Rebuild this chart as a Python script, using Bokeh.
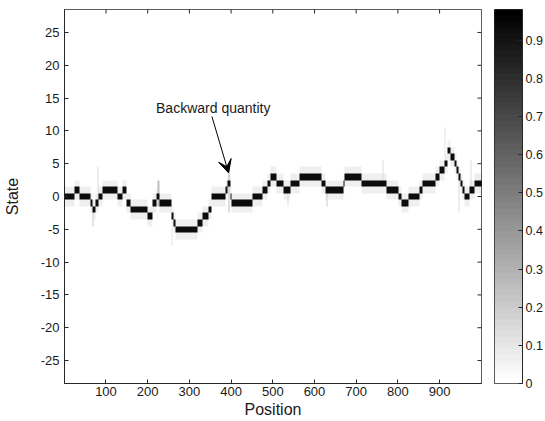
import numpy as np
from bokeh.plotting import figure
from bokeh.models import (Range1d, LinearColorMapper, FixedTicker, Label, Arrow, VeeHead)
from bokeh.layouts import row
from bokeh.embed import file_html
from bokeh.resources import INLINE

# ---------------- data ----------------
n_positions = 1000
states = list(range(-28, 29))

# most likely state path: segment start position and state
seg_start = [1, 25, 37, 64, 67, 76, 82, 92, 128, 140,
             150, 160, 200, 212, 222, 230, 257, 263, 268, 319,
             331, 347, 354, 388, 392, 398, 402, 451, 476, 487,
             496, 509, 526, 543, 565, 618, 628, 669, 672, 713,
             772, 801, 809, 825, 852, 860, 890, 900, 912, 920,
             926, 936, 942, 946, 950, 955, 960, 973, 985]
seg_state = [0, 1, 0, -1, -2, -1, 0, 1, 0, 1,
             -1, -2, -3, -1, 0, -1, -3, -4, -5, -4,
             -3, -2, 0, 1, 2, 0, -1, 0, 1, 2,
             3, 2, 1, 2, 3, 2, 1, 2, 3, 2,
             1, 0, -1, 0, 1, 2, 3, 4, 5, 7,
             6, 5, 4, 3, 2, 1, 0, 1, 2]

# probability of the path state and of its neighbours
p_center = 0.93
p_near = 0.07
p_far = 0.015

# faint vertical streaks (position, lowest state, highest state, probability)
spike_pos = [68, 81, 226, 258, 395, 536, 630, 765, 913, 947, 976]
spike_lo = [-4, 0, -1, -7, -2, -1, -1, 2, 5, -2, 1]
spike_hi = [-2, 4, 2, -5, 4, 1, 1, 5, 10, 3, 5]
spike_val = [0.2, 0.15, 0.25, 0.12, 0.25, 0.15, 0.2, 0.15, 0.12, 0.15, 0.15]

x_ticks = [100, 200, 300, 400, 500, 600, 700, 800, 900]
y_ticks = [-25, -20, -15, -10, -5, 0, 5, 10, 15, 20, 25]
y_tick_labels = ["-25", "-20", "-15", "-10", "-5", "0", "5", "10", "15", "20", "25"]
cbar_ticks = [0, 0.1, 0.2, 0.3, 0.4, 0.5, 0.6, 0.7, 0.8, 0.9]
cbar_labels = ["0", "0.1", "0.2", "0.3", "0.4", "0.5", "0.6", "0.7", "0.8", "0.9"]
cbar_high = 0.98

note_text = "Backward quantity"
note_x, note_y = 220.0, 13.5
arrow_from = (354.0, 12.2)
arrow_to = (394.0, 3.6)

# ---------------- build the matrix ----------------
n_states = len(states)
M = np.zeros((n_states, n_positions))
bounds = seg_start[1:] + [n_positions + 1]
for s0, s1, st in zip(seg_start, bounds, seg_state):
    for pos in range(s0, s1):
        c = pos - 1
        i = st - states[0]
        M[i, c] = max(M[i, c], p_center)
        for d, v in ((1, p_near), (2, p_far)):
            for j in (i - d, i + d):
                if 0 <= j < n_states:
                    M[j, c] = max(M[j, c], v)
for sp, lo, hi, v in zip(spike_pos, spike_lo, spike_hi, spike_val):
    for c in range(sp - 2, sp + 1):
        for st in range(lo, hi + 1):
            i = st - states[0]
            M[i, c] = max(M[i, c], v)

levels = 64
gray_palette = ["#%02x%02x%02x" % (g, g, g)
                for g in [int(round(255 * (1 - k / (levels - 1)))) for k in range(levels)]]
mapper = LinearColorMapper(palette=gray_palette, low=0, high=cbar_high)

FONT = "Liberation Sans"
TXT = "#1a1a1a"
LINE = "#262626"

# frame geometry (pixels) used for the inward tick marks on top / right
FRAME_W, FRAME_H = 419, 374
TICK_PX = 4

x0, x1 = 0.5, n_positions + 0.5
y0, y1 = states[0] - 0.5, states[-1] + 0.5

# ---------------- main figure ----------------
p = figure(width=484, height=421, x_range=Range1d(x0, x1), y_range=Range1d(y0, y1),
           toolbar_location=None, output_backend="svg",
           min_border_left=62, min_border_right=3, min_border_top=9,
           min_border_bottom=38)
p.image(image=[M], x=x0, y=y0, dw=n_positions, dh=n_states, color_mapper=mapper)
p.grid.visible = False
p.outline_line_color = LINE
p.background_fill_color = "white"

# inward ticks on the top and right edges of the frame
ty = TICK_PX * (y1 - y0) / FRAME_H
tx = TICK_PX * (x1 - x0) / FRAME_W
p.segment(x0=x_ticks, y0=[y1] * len(x_ticks), x1=x_ticks, y1=[y1 - ty] * len(x_ticks),
          line_color=LINE, line_width=1)
p.segment(x0=[x1] * len(y_ticks), y0=y_ticks, x1=[x1 - tx] * len(y_ticks), y1=y_ticks,
          line_color=LINE, line_width=1)

xa = p.xaxis[0]
ya = p.yaxis[0]
xa.ticker = FixedTicker(ticks=x_ticks)
xa.axis_label = "Position"
ya.ticker = FixedTicker(ticks=y_ticks)
ya.major_label_overrides = {t: l for t, l in zip(y_ticks, y_tick_labels)}
ya.axis_label = "State"
for ax in (xa, ya):
    ax.major_tick_in = 4
    ax.major_tick_out = 0
    ax.minor_tick_line_color = None
    ax.axis_line_color = LINE
    ax.major_tick_line_color = LINE
    ax.major_label_text_font = FONT
    ax.major_label_text_font_size = "13px"
    ax.major_label_text_color = TXT
    ax.axis_label_text_font = FONT
    ax.axis_label_text_font_size = "16px"
    ax.axis_label_text_font_style = "normal"
    ax.axis_label_text_color = TXT
xa.major_label_standoff = 3
xa.axis_label_standoff = 2
ya.major_label_standoff = 5
ya.axis_label_standoff = 17
ya.major_label_text_baseline = "bottom"

p.add_layout(Label(x=note_x, y=note_y, text=note_text, text_font=FONT,
                   text_font_size="14px", text_color=TXT, text_baseline="middle"))
p.add_layout(Arrow(x_start=arrow_from[0], y_start=arrow_from[1],
                   x_end=arrow_to[0], y_end=arrow_to[1], line_color="black",
                   line_width=1,
                   end=VeeHead(size=13, fill_color="black", line_color="black")))

# ---------------- colour bar figure ----------------
cb = figure(width=61, height=421, x_range=Range1d(0, 1), y_range=Range1d(0, cbar_high),
            toolbar_location=None, output_backend="svg", y_axis_location="right",
            min_border_left=10, min_border_right=21, min_border_top=9,
            min_border_bottom=38)
cb.image(image=[np.linspace(0, cbar_high, levels).reshape(levels, 1)], x=0, y=0,
         dw=1, dh=cbar_high, color_mapper=mapper)
cb.xaxis.visible = False
cb.grid.visible = False
cb.outline_line_color = LINE
cax = cb.yaxis[0]
cax.ticker = FixedTicker(ticks=cbar_ticks)
cax.major_label_overrides = {t: l for t, l in zip(cbar_ticks, cbar_labels)}
cax.major_tick_in = 4
cax.major_tick_out = 0
cax.minor_tick_line_color = None
cax.axis_line_color = LINE
cax.major_tick_line_color = LINE
cax.major_label_standoff = 3
cax.major_label_text_font = FONT
cax.major_label_text_font_size = "12.5px"
cax.major_label_text_color = TXT
cax.major_label_text_baseline = "bottom"

layout = row(p, cb)
open("out.html", "w").write(file_html(layout, INLINE))
